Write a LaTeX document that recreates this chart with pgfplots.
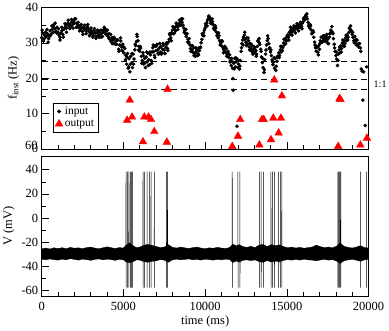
\documentclass[border=0pt]{standalone}
\usepackage{pgfplots}
\pgfplotsset{compat=1.18}
\usepackage{pgfplotstable}
\usepackage{fontspec}
\setmainfont{Liberation Serif}

\pgfplotstableread{
t f
0 31.5
50 32.8
110 30.5
170 32.2
230 33.0
290 31.8
350 32.6
400 30.2
460 32.0
520 33.4
580 32.5
640 33.8
700 34.6
760 35.2
820 34.0
880 33.3
940 34.4
1000 33.0
1060 32.2
1120 31.6
1180 32.8
1240 33.5
1300 32.4
1360 33.8
1420 34.3
1480 35.0
1540 34.2
1600 35.6
1660 34.8
1720 35.3
1780 34.6
1840 35.9
1900 35.2
1960 36.2
2020 35.6
2080 36.8
2140 35.5
2200 35.0
2260 34.3
2320 34.8
2380 33.6
2440 34.2
2500 33.2
2560 34.5
2620 33.8
2680 34.0
2740 33.3
2800 34.6
2860 33.9
2920 33.0
2980 32.4
3040 33.5
3100 32.8
3160 32.0
3220 33.4
3280 32.7
3340 31.8
3400 32.9
3460 32.2
3520 33.0
3580 32.4
3640 31.6
3700 32.8
3760 33.6
3820 33.0
3880 34.0
3940 33.4
4000 32.5
4060 31.8
4120 32.6
4180 31.0
4240 30.4
4300 31.5
4360 30.8
4420 29.8
4480 31.2
4540 30.5
4600 29.6
4660 30.8
4720 28.2
4780 29.4
4840 30.5
4900 28.8
4960 29.6
5020 27.2
5080 28.4
5140 26.5
5200 24.0
5250 27.0
5300 22.8
5350 25.5
5400 21.8
5450 26.2
5500 24.2
5550 23.0
5600 26.8
5650 25.4
5700 28.0
5750 29.2
5800 30.4
5850 31.8
5900 30.6
5950 29.0
6000 27.6
6050 28.5
6100 26.2
6150 25.0
6200 27.2
6250 24.0
6300 25.6
6350 23.0
6400 26.0
6450 24.6
6500 27.0
6550 25.2
6600 23.8
6650 26.6
6700 25.0
6750 27.4
6800 28.6
6850 27.5
6900 26.4
6950 29.0
7000 27.8
7050 29.6
7100 28.0
7150 26.8
7200 28.6
7250 27.4
7300 29.0
7350 27.2
7400 28.2
7450 29.4
7500 28.0
7550 27.0
7600 28.8
7650 29.6
7700 28.4
7750 30.2
7800 31.0
7850 32.2
7900 31.4
7950 32.8
8000 33.6
8050 32.6
8100 33.8
8150 34.4
8200 33.5
8250 34.8
8300 35.2
8350 34.6
8400 35.5
8450 35.0
8500 36.2
8550 36.8
8600 35.8
8650 35.0
8700 34.2
8750 33.4
8800 32.6
8850 31.8
8900 32.6
8950 31.0
9000 30.2
9050 29.5
9100 28.4
9150 29.2
9200 28.0
9250 27.3
9300 28.6
9350 27.0
9400 26.2
9450 27.6
9500 28.2
9550 27.0
9600 26.6
9650 27.8
9700 28.6
9750 30.0
9800 31.0
9850 32.2
9900 32.8
9950 33.6
10000 34.2
10050 34.8
10100 35.6
10150 36.4
10200 36.9
10250 37.4
10300 36.8
10350 36.2
10400 35.4
10450 36.0
10500 35.2
10550 34.4
10600 33.6
10650 34.2
10700 33.0
10750 32.2
10800 31.4
10850 32.0
10900 30.6
10950 30.0
11000 29.2
11050 30.4
11100 28.6
11150 28.0
11200 29.0
11250 27.4
11300 28.4
11350 26.8
11400 27.6
11450 25.8
11500 26.6
11550 25.0
11600 23.6
11650 24.8
11680 22.8
11700 19.9
11720 16.6
11750 24.2
11800 25.6
11850 23.2
11900 24.6
11950 6.4
11960 25.4
12000 23.0
12050 24.0
12100 22.6
12150 25.0
12200 27.6
12250 29.8
12300 30.8
12350 31.6
12400 32.2
12450 31.0
12500 30.2
12550 31.4
12600 29.6
12650 30.6
12700 28.8
12750 29.8
12800 28.4
12850 27.6
12900 29.2
12950 28.0
13000 27.2
13050 28.6
13100 27.8
13150 26.8
13200 29.0
13250 30.4
13300 31.2
13350 29.6
13400 28.2
13450 26.0
13500 24.4
13550 23.0
13600 21.6
13650 25.2
13700 26.8
13750 29.4
13800 30.6
13850 31.2
13900 29.8
13950 28.6
14000 27.4
14050 26.4
14100 25.2
14150 23.8
14200 24.6
14250 22.8
14300 25.6
14350 23.4
14400 24.8
14450 26.0
14500 27.2
14550 26.4
14600 28.0
14650 27.4
14700 29.0
14750 28.6
14800 30.0
14850 29.4
14900 30.8
14950 31.4
15000 30.6
15050 32.2
15100 31.6
15150 33.0
15200 32.4
15250 33.6
15300 33.0
15350 34.0
15400 33.4
15450 34.4
15500 33.8
15550 34.6
15600 34.0
15650 34.8
15700 34.2
15750 35.0
15800 34.4
15850 35.2
15900 34.6
15950 35.6
16000 36.0
16050 36.6
16100 37.2
16150 37.8
16200 37.4
16250 36.8
16300 35.8
16350 35.0
16400 34.2
16450 34.8
16500 33.6
16550 32.8
16600 33.4
16650 31.6
16700 30.2
16750 28.6
16800 27.6
16850 28.8
16900 27.4
16950 29.2
17000 28.2
17050 30.6
17100 31.6
17150 30.2
17200 31.4
17250 30.8
17300 32.0
17350 31.2
17400 30.4
17450 32.4
17500 31.0
17550 29.8
17600 31.6
17650 32.6
17700 33.6
17750 34.6
17800 33.0
17850 31.2
17900 29.6
17950 27.6
18000 26.4
18050 25.4
18100 23.6
18150 26.8
18200 28.0
18250 27.2
18300 29.2
18350 28.4
18400 30.0
18450 29.2
18500 30.6
18550 29.8
18600 31.4
18650 30.6
18700 32.2
18750 31.6
18800 33.0
18850 34.0
18900 34.8
18950 33.4
19000 32.4
19050 31.6
19100 30.6
19150 31.8
19200 30.2
19250 29.4
19300 30.8
19350 29.6
19400 28.8
19450 29.8
19500 28.6
19550 22.6
19600 22.0
19650 13.8
19700 21.8
19800 6.6
19880 23.2
}\inputdata

\pgfplotstableread{
t f
25 33.6
125 31.0
225 31.6
325 33.8
425 31.2
525 32.0
625 34.8
725 33.0
825 35.6
925 32.8
1025 34.0
1125 30.8
1225 34.4
1325 31.6
1425 35.4
1525 33.0
1625 36.4
1725 34.0
1825 36.6
1925 34.2
2025 36.8
2125 34.4
2225 35.8
2325 33.4
2425 35.2
2525 32.4
2625 35.0
2725 32.6
2825 35.2
2925 32.0
3025 34.2
3125 31.6
3225 34.0
3325 31.2
3425 33.6
3525 31.6
3625 33.6
3725 31.8
3825 34.4
3925 32.4
4025 33.6
4125 31.2
4225 32.4
4325 29.8
4425 31.6
4525 29.6
4625 30.8
4725 27.6
4825 31.4
4925 27.8
5025 28.8
5125 25.2
5225 26.0
5325 23.2
5425 24.0
5525 27.0
5625 24.0
5725 29.6
5825 32.4
5925 28.0
6025 29.0
6125 24.2
6225 26.4
6325 24.4
6425 27.4
6525 23.6
6625 27.4
6725 24.2
6825 29.4
6925 25.8
7025 29.2
7125 27.0
7225 29.8
7325 26.8
7425 29.8
7525 27.0
7625 30.0
7725 27.8
7825 32.6
7925 30.6
8025 34.6
8125 32.8
8225 35.6
8325 33.8
8425 36.4
8525 35.0
8625 36.8
8725 33.0
8825 33.8
8925 30.2
9025 31.2
9125 27.6
9225 29.2
9325 26.4
9425 28.6
9525 26.4
9625 28.6
9725 28.8
9825 32.6
9925 32.0
10025 35.4
10125 34.8
10225 37.6
10325 35.6
10425 36.8
10525 34.0
10625 34.8
10725 32.0
10825 32.8
10925 29.4
11025 30.6
11125 27.2
11225 28.8
11325 26.2
11425 27.0
11525 24.6
11625 25.6
11775 22.6
11875 25.8
12025 25.0
12125 23.4
12225 28.6
12325 29.4
12425 33.0
12525 29.2
12625 31.4
12725 28.0
12825 29.6
12925 26.8
13025 28.8
13125 26.2
13225 30.6
13325 30.0
13425 27.6
13525 25.6
13625 22.4
13725 28.0
13825 32.0
13925 28.4
14025 28.0
14125 24.6
14225 25.8
14325 22.2
14425 26.2
14525 25.8
14625 29.0
14725 27.8
14825 31.0
14925 29.8
15025 32.0
15125 30.8
15225 34.4
15325 32.2
15425 34.8
15525 32.8
15625 35.4
15725 33.4
15825 35.8
15925 34.0
16025 37.0
16125 36.6
16225 38.2
16325 34.8
16425 35.2
16525 32.6
16625 33.0
16725 29.4
16825 29.0
16925 26.6
17025 29.8
17125 30.2
17225 32.0
17325 30.4
17425 31.6
17525 29.8
17625 32.6
17725 33.2
17825 32.6
17925 28.6
18025 27.4
18125 25.0
18225 28.8
18325 27.4
18425 30.8
18525 29.0
18625 32.2
18725 30.8
18825 34.2
18925 33.6
19025 33.0
19125 30.0
19225 31.0
19325 29.4
19425 29.8
19525 27.6
}\inputdataB

\pgfplotstableread{
t f
5230 8.1
5390 13.8
5530 9.0
6200 2.0
6280 9.0
6540 9.0
6690 8.3
6890 4.9
7660 1.9
7700 16.9
11660 0.7
12010 3.6
12150 8.3
13320 1.1
13480 8.3
13590 8.3
14030 2.6
14170 8.7
14230 19.5
14500 4.5
14640 8.7
14700 15.0
18140 0.7
18220 14.2
18280 14.0
19500 1.1
19900 3.0
}\outputdata

\pgfplotsset{every axis/.append style={
  scale only axis, width=327.8pt,
  xmin=0, xmax=20000,
  axis line style={line width=0.6pt},
  tick style={black, line width=0.5pt},
  major tick length=7pt, minor tick length=4pt,
  tick align=inside, xtick pos=bottom, ytick pos=left,
  /pgf/number format/assume math mode=true,
  /pgf/number format/1000 sep={},
  scaled x ticks=false,
  xtick={0,5000,...,20000}, minor x tick num=4,
  tick label style={font=\fontsize{12.5}{14}\selectfont},
  label style={font=\fontsize{12.5}{14}\selectfont},
}}

\begin{document}
\begin{tikzpicture}
\path (-40.7pt,-32.7pt) rectangle (348.3pt,294.3pt);

\begin{axis}[at={(0pt,147.6pt)}, height=141.7pt,
  ymin=0, ymax=40, ytick={0,10,...,40}, minor y tick num=1,
  xticklabels={}, clip=false,
  ylabel={f\textsubscript{inst} (Hz)},
  ylabel style={at={(axis description cs:-0.086,0.5)}, anchor=center},
  legend style={at={(axis cs:690,4.7)}, anchor=south west, draw=black, line width=0.6pt,
    font=\fontsize{11.5}{13}\selectfont, row sep=0pt, inner sep=2pt},
  legend cell align=left]
\addplot[black, line width=0.8pt, dash pattern=on 6pt off 4pt, forget plot] coordinates {(0,24.8) (20000,24.8)};
\addplot[black, line width=0.8pt, dash pattern=on 6pt off 4pt, forget plot] coordinates {(0,19.6) (20000,19.6)};
\addplot[black, line width=0.8pt, dash pattern=on 6pt off 4pt, forget plot] coordinates {(0,16.9) (20000,16.9)};
\addplot[only marks, mark=*, mark size=1.6pt, black, forget plot] table[x=t, y=f] {\inputdataB};
\addplot[only marks, mark=*, mark size=1.6pt, black] table[x=t, y=f] {\inputdata};
\addlegendentry{input}
\addplot[only marks, mark=triangle*, mark size=4.4pt, red, mark options={draw=red, fill=red}] table[x=t, y=f] {\outputdata};
\addlegendentry{output}
\node[anchor=west, font=\fontsize{10}{12}\selectfont, inner sep=0pt] at (axis cs:20000,18.25) [xshift=5pt] {1:1};
\end{axis}

\begin{axis}[at={(0pt,0pt)}, height=140pt,
  ymin=-64.5, ymax=51, ytick={-60,-40,-20,0,20,40},
  yticklabels={-60,-40,-20,0,20,40}, minor y tick num=1,
  clip=false,
  xticklabel style={yshift=-3pt},
  xlabel={time (ms)},
  xlabel style={at={(axis description cs:0.5,-0.182)}, anchor=center},
  ylabel={V (mV)},
  ylabel style={at={(axis description cs:-0.10,0.5)}, anchor=center}]
\addplot[fill=black, draw=black, line width=0.3pt] coordinates {
(0,-25.5) (250,-24.8) (500,-25.6) (750,-24.6) (1000,-25.2) (1250,-24.5) (1500,-25.4) (1750,-24.2) (2000,-25.0) (2250,-24.6) (2500,-25.3) (2750,-24.4) (3000,-24.0) (3250,-24.8) (3500,-25.4) (3750,-24.6) (4000,-23.8) (4250,-24.5) (4500,-25.2) (4750,-24.4) (5000,-24.8) (5200,-22.0) (5400,-20.5) (5600,-23.0) (5800,-24.5) (6000,-24.0) (6250,-22.5) (6500,-21.8) (6750,-22.6) (7000,-23.5) (7250,-24.4) (7500,-24.0) (7750,-22.0) (8000,-24.2) (8250,-24.8) (8500,-24.0) (8750,-24.6) (9000,-25.2) (9250,-24.4) (9500,-24.0) (9750,-24.8) (10000,-25.4) (10250,-24.6) (10500,-25.0) (10750,-24.2) (11000,-24.8) (11250,-25.2) (11500,-24.4) (11700,-21.5) (11900,-23.0) (12100,-22.0) (12300,-23.6) (12550,-24.2) (12800,-23.4) (13050,-24.4) (13300,-22.4) (13550,-21.8) (13800,-23.6) (14050,-22.0) (14300,-22.8) (14550,-22.2) (14800,-23.6) (15050,-24.6) (15300,-24.0) (15550,-24.8) (15800,-24.2) (16050,-25.0) (16300,-24.4) (16550,-24.0) (16800,-22.4) (17050,-23.6) (17300,-24.4) (17550,-24.0) (17800,-24.6) (18050,-23.2) (18250,-20.5) (18500,-23.4) (18750,-24.2) (19000,-24.8) (19250,-24.0) (19500,-22.8) (19750,-24.4) (20000,-24.8)
(20000,-34.2) (19750,-34.6) (19500,-35.8) (19250,-34.8) (19000,-34.2) (18750,-34.6) (18500,-35.4) (18250,-37.5) (18050,-35.6) (17800,-34.4) (17550,-34.8) (17300,-34.2) (17050,-34.6) (16800,-35.4) (16550,-34.8) (16300,-34.6) (16050,-34.0) (15800,-34.8) (15550,-34.2) (15300,-34.8) (15050,-34.4) (14800,-35.0) (14550,-36.2) (14300,-35.6) (14050,-36.4) (13800,-35.2) (13550,-36.6) (13300,-36.0) (13050,-34.6) (12800,-35.2) (12550,-34.6) (12300,-35.0) (12100,-36.4) (11900,-35.6) (11700,-36.8) (11500,-34.4) (11250,-34.0) (11000,-34.6) (10750,-34.2) (10500,-34.8) (10250,-34.4) (10000,-34.0) (9750,-34.8) (9500,-34.2) (9250,-34.6) (9000,-33.8) (8750,-34.2) (8500,-34.6) (8250,-34.0) (8000,-34.6) (7750,-36.6) (7500,-34.8) (7250,-34.4) (7000,-35.4) (6750,-35.8) (6500,-36.6) (6250,-36.0) (6000,-34.8) (5800,-34.6) (5600,-36.0) (5400,-37.0) (5200,-36.5) (5000,-34.6) (4750,-34.2) (4500,-35.0) (4250,-34.4) (4000,-34.0) (3750,-34.6) (3500,-33.8) (3250,-34.2) (3000,-35.0) (2750,-34.4) (2500,-34.0) (2250,-34.8) (2000,-34.2) (1750,-33.6) (1500,-34.6) (1250,-34.0) (1000,-34.8) (750,-34.4) (500,-33.8) (250,-34.6) (0,-34.0)
} -- cycle;
\addplot[black, line width=0.5pt, sharp plot] coordinates {
(0,-30) (5157,-30) (5160,38.5) (5163,-57.5) (5166,-30)
(5237,-30) (5240,38.5) (5243,-57.5) (5246,-30)
(5327,-30) (5330,38.5) (5333,-57.5) (5336,-30)
(5417,-30) (5420,38.5) (5423,-57.5) (5426,-30)
(5497,-30) (5500,38.5) (5503,-57.5) (5506,-30)
(5557,-30) (5560,38.5) (5563,-57.5) (5566,-30)
(6197,-30) (6200,38.5) (6203,-57.5) (6206,-30)
(6297,-30) (6300,38.5) (6303,-57.5) (6306,-30)
(6447,-30) (6450,38.5) (6453,-57.5) (6456,-30)
(6587,-30) (6590,38.5) (6593,-57.5) (6596,-30)
(6687,-30) (6690,38.5) (6693,-57.5) (6696,-30)
(6887,-30) (6890,38.5) (6893,-57.5) (6896,-30)
(7637,-30) (7640,38.5) (7643,-57.5) (7646,-30)
(7697,-30) (7700,38.5) (7703,-57.5) (7706,-30)
(11657,-30) (11660,38.5) (11663,-57.5) (11666,-30)
(12007,-30) (12010,38.5) (12013,-57.5) (12016,-30)
(12127,-30) (12130,38.5) (12133,-57.5) (12136,-30)
(13317,-30) (13320,38.5) (13323,-57.5) (13326,-30)
(13427,-30) (13430,38.5) (13433,-57.5) (13436,-30)
(13567,-30) (13570,38.5) (13573,-57.5) (13576,-30)
(14027,-30) (14030,38.5) (14033,-57.5) (14036,-30)
(14127,-30) (14130,38.5) (14133,-57.5) (14136,-30)
(14237,-30) (14240,38.5) (14243,-57.5) (14246,-30)
(14497,-30) (14500,38.5) (14503,-57.5) (14506,-30)
(14597,-30) (14600,38.5) (14603,-57.5) (14606,-30)
(14687,-30) (14690,38.5) (14693,-57.5) (14696,-30)
(18117,-30) (18120,38.5) (18123,-57.5) (18126,-30)
(18177,-30) (18180,38.5) (18183,-57.5) (18186,-30)
(18237,-30) (18240,38.5) (18243,-57.5) (18246,-30)
(18297,-30) (18300,38.5) (18303,-57.5) (18306,-30)
(19497,-30) (19500,38.5) (19503,-57.5) (19506,-30)
(19877,-30) (19880,38.5) (19883,-57.5) (19886,-30)
(20000,-30)
};
\node[anchor=east, font=\fontsize{12.5}{14}\selectfont] at (axis cs:0,60) [xshift=-0.5pt] {60};
\end{axis}
\end{tikzpicture}
\end{document}
